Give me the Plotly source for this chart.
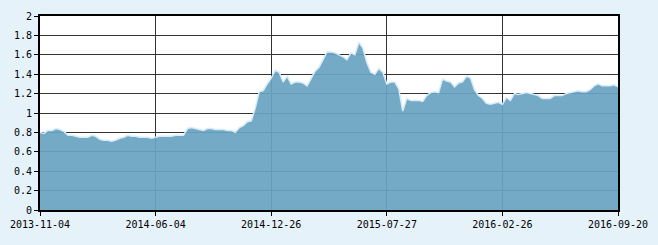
import plotly.graph_objects as go

tick_labels = ["2013-11-04", "2014-06-04", "2014-12-26", "2015-07-27", "2016-02-26", "2016-09-20"]
tick_index = [0, 29, 58, 87, 116, 145]

values = [
    0.80, 0.79, 0.82, 0.82, 0.84, 0.83, 0.81, 0.77, 0.77, 0.76,
    0.75, 0.75, 0.75, 0.77, 0.76, 0.73, 0.72, 0.72, 0.71, 0.72,
    0.74, 0.75, 0.77, 0.76, 0.76, 0.75, 0.75, 0.75, 0.74, 0.75,
    0.76, 0.76, 0.76, 0.76, 0.77, 0.77, 0.77, 0.84, 0.85, 0.84,
    0.83, 0.82, 0.84, 0.84, 0.83, 0.83, 0.83, 0.82, 0.82, 0.80,
    0.85, 0.87, 0.91, 0.92, 1.05, 1.22, 1.23, 1.30, 1.36, 1.44,
    1.42, 1.32, 1.38, 1.30, 1.32, 1.32, 1.31, 1.28, 1.36, 1.43,
    1.47, 1.55, 1.63, 1.63, 1.62, 1.60, 1.58, 1.55, 1.62, 1.60,
    1.73, 1.67, 1.52, 1.42, 1.40, 1.46, 1.42, 1.30, 1.32, 1.32,
    1.25, 1.02, 1.15, 1.13, 1.13, 1.13, 1.12, 1.18, 1.21, 1.22,
    1.21, 1.35, 1.33, 1.32, 1.27, 1.31, 1.32, 1.38, 1.36, 1.24,
    1.18, 1.15, 1.10, 1.09, 1.10, 1.11, 1.09, 1.16, 1.13, 1.20,
    1.19, 1.20, 1.21, 1.20, 1.19, 1.18, 1.15, 1.15, 1.15, 1.18,
    1.18, 1.18, 1.20, 1.21, 1.22, 1.23, 1.22, 1.22, 1.24, 1.28,
    1.30, 1.28, 1.28, 1.28, 1.29, 1.27,
]
day_index = list(range(len(values)))

y_ticks = [0, 0.2, 0.4, 0.6, 0.8, 1, 1.2, 1.4, 1.6, 1.8, 2]
y_labels = ["0", "0.2", "0.4", "0.6", "0.8", "1", "1.2", "1.4", "1.6", "1.8", "2"]

fig = go.Figure()
fig.add_trace(go.Scatter(
    x=day_index, y=values, mode="lines", fill="tozeroy",
    fillcolor="rgba(107,164,195,0.93)",
    line=dict(color="rgba(215,235,250,1)", width=1.5),
    hoverinfo="skip", showlegend=False,
))

font = dict(family="DejaVu Sans Mono, monospace", size=10, color="#000")
fig.update_layout(
    width=658, height=245,
    margin=dict(l=38, r=40, t=10, b=35),
    paper_bgcolor="#e6f2fa", plot_bgcolor="#ffffff",
    font=font,
    xaxis=dict(
        range=[0, len(values) - 1], tickmode="array",
        tickvals=tick_index, ticktext=tick_labels,
        showgrid=True, gridcolor="#333333", gridwidth=1,
        showline=True, linecolor="#000", linewidth=2, mirror=True,
        ticks="outside", ticklen=4, tickcolor="#000", tickfont=font,
        zeroline=False,
    ),
    yaxis=dict(
        range=[0, 2], tickmode="array", tickvals=y_ticks, ticktext=y_labels,
        showgrid=True, gridcolor="#333333", gridwidth=1,
        showline=True, linecolor="#000", linewidth=2, mirror=True,
        ticks="outside", ticklen=4, tickcolor="#000", tickfont=font,
        zeroline=False,
    ),
)

fig.write_html("out.html")
